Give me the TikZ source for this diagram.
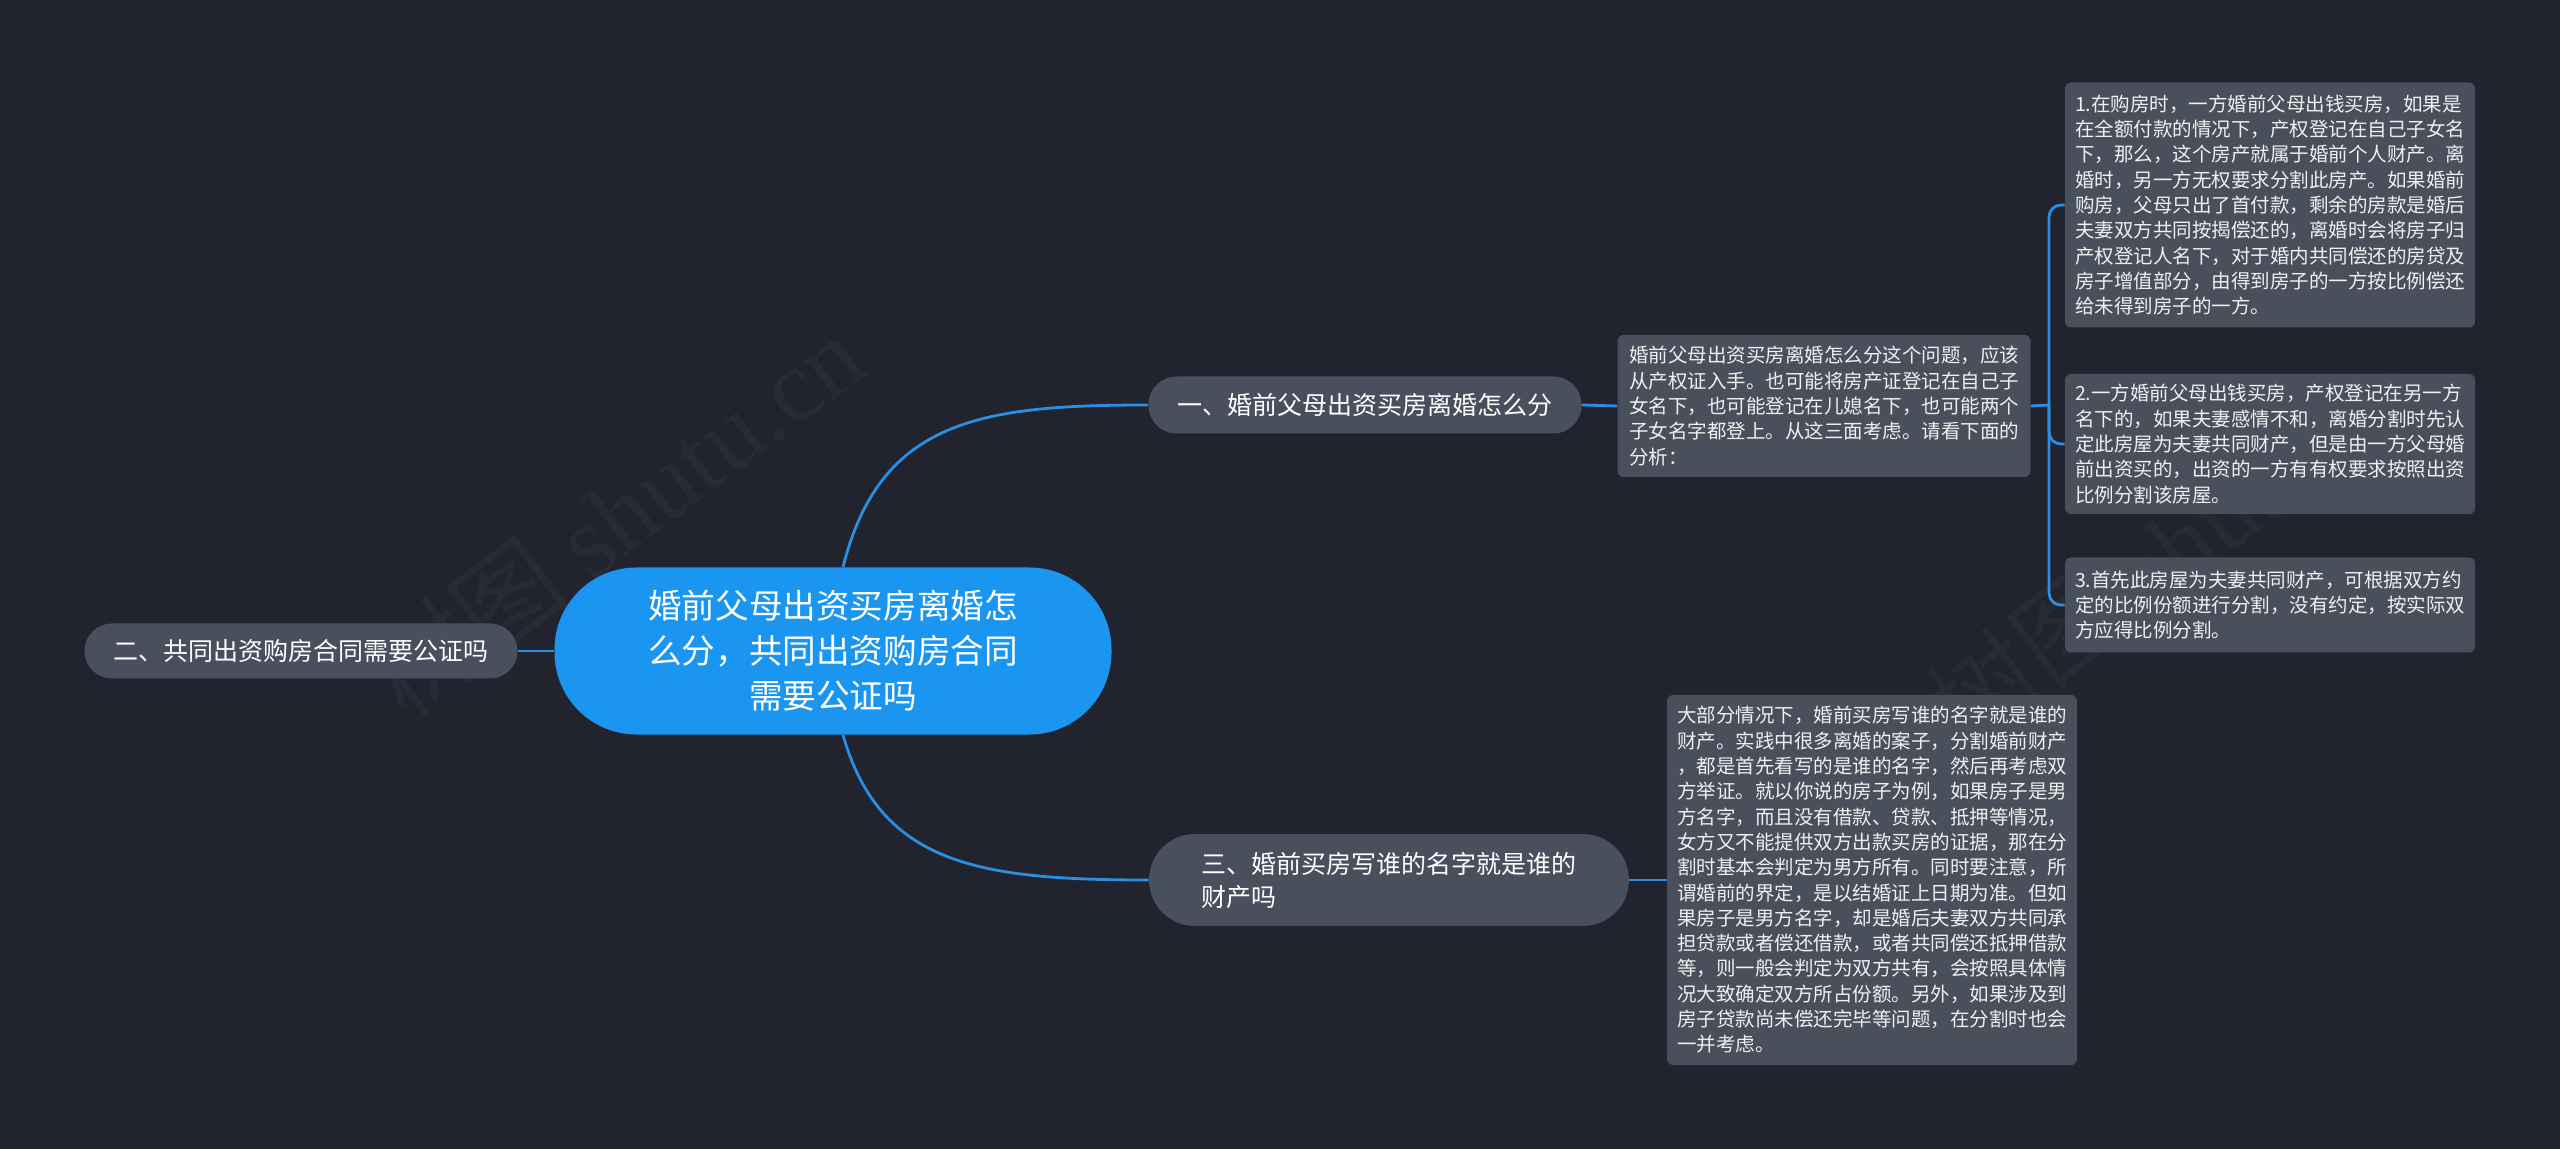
\documentclass[tikz,border=0pt]{standalone}
\usepackage{fontspec}
\setmainfont{Noto Sans CJK SC}
\newfontfamily\wmfont{Liberation Serif}
\usetikzlibrary{calc}
\definecolor{bg}{HTML}{21242E}
\definecolor{topicgray}{HTML}{4A4F5D}
\definecolor{boxgray}{HTML}{4A4F5C}
\definecolor{mainblue}{HTML}{1A96F0}
\definecolor{linkblue}{HTML}{2B8EE0}
\definecolor{wmark}{HTML}{282B35}

\begin{document}
\begin{tikzpicture}[x=0.5pt,y=-0.5pt,
    link/.style={draw=linkblue, line width=1.4pt},
    topic/.style={fill=topicgray, text=white, inner sep=0pt, font=\fontsize{12.5}{16.5}\selectfont},
    note/.style={fill=boxgray, text=white!94!black, rounded corners=3pt, inner sep=0pt,
        align=left, minimum width=205pt, font=\fontsize{9.75}{12.65}\selectfont},
    wmtext/.style={rotate=37, text=wmark, font=\fontsize{52}{52}\selectfont}]
        % background
        \path[fill=bg](0,0)rectangle(2560,1149);
        \useasboundingbox(0,0)rectangle(2560,1149);
        % watermark
        \node[wmtext](wm1)at(615,515){树图 {\wmfont shutu.cn}};
        \node[wmtext](wm2)at(2175,545){树图 {\wmfont shutu.cn}};
        % nodes
        \node[fill=mainblue, text=white, inner sep=0pt, align=center, minimum width=278.5pt,
            minimum height=83.5pt, rounded corners=41pt, font=\fontsize{16.8}{22.5}\selectfont]
            (main)at(833,651){婚前父母出资买房离婚怎\\么分，共同出资购房合同\\需要公证吗};
        \node[topic, minimum width=216.5pt, minimum height=28.5pt, rounded corners=14pt]
            (t1)at(1365,405){一、婚前父母出资买房离婚怎么分};
        \node[topic, minimum width=216.5pt, minimum height=27.5pt, rounded corners=13.7pt]
            (t2)at(301,651){二、共同出资购房合同需要公证吗};
        \node[topic, align=left, minimum width=240pt, minimum height=46pt, rounded corners=23pt,
            font=\fontsize{12.5}{16.5}\selectfont]
            (t3)at(1389,880){三、婚前买房写谁的名字就是谁的\\财产吗};
        \node[note, minimum width=206.5pt, minimum height=71pt](n1)at(1824,406){婚前父母出资买房离婚怎么分这个问题，应该\\从产权证入手。也可能将房产证登记在自己子\\女名下，也可能登记在儿媳名下，也可能两个\\子女名字都登上。从这三面考虑。请看下面的\\分析：};
        \node[note, minimum height=122.5pt](a1)at(2270,205){1.在购房时，一方婚前父母出钱买房，如果是\\在全额付款的情况下，产权登记在自己子女名\\下，那么，这个房产就属于婚前个人财产。离\\婚时，另一方无权要求分割此房产。如果婚前\\购房，父母只出了首付款，剩余的房款是婚后\\夫妻双方共同按揭偿还的，离婚时会将房子归\\产权登记人名下，对于婚内共同偿还的房贷及\\房子增值部分，由得到房子的一方按比例偿还\\给未得到房子的一方。};
        \node[note, minimum height=70pt](a2)at(2270,444){2.一方婚前父母出钱买房，产权登记在另一方\\名下的，如果夫妻感情不和，离婚分割时先认\\定此房屋为夫妻共同财产，但是由一方父母婚\\前出资买的，出资的一方有有权要求按照出资\\比例分割该房屋。};
        \node[note, minimum height=47.5pt](a3)at(2270,605){3.首先此房屋为夫妻共同财产，可根据双方约\\定的比例份额进行分割，没有约定，按实际双\\方应得比例分割。};
        \node[note, minimum height=185pt](n3)at(1872,880){大部分情况下，婚前买房写谁的名字就是谁的\\财产。实践中很多离婚的案子，分割婚前财产\\，都是首先看写的是谁的名字，然后再考虑双\\方举证。就以你说的房子为例，如果房子是男\\方名字，而且没有借款、贷款、抵押等情况，\\女方又不能提供双方出款买房的证据，那在分\\割时基本会判定为男方所有。同时要注意，所\\谓婚前的界定，是以结婚证上日期为准。但如\\果房子是男方名字，却是婚后夫妻双方共同承\\担贷款或者偿还借款，或者共同偿还抵押借款\\等，则一般会判定为双方共有，会按照具体情\\况大致确定双方所占份额。另外，如果涉及到\\房子贷款尚未偿还完毕等问题，在分割时也会\\一并考虑。};
        % connectors
        \coordinate(fork)at(2049,405);
        \path[link]([xshift=5pt]main.north)..controls(880,420)and(980,405)..(t1.west);
        \path[link]([xshift=5pt]main.south)..controls(880,865)and(980,880)..(t3.west);
        \path[link](main.west)to(t2.east);
        \path[link](t1.east)to(n1.west);
        \path[link](t3.east)to(n3.west);
        \path[link](n1.east)to(fork);
        \path[link, rounded corners=6pt](fork)|-(a1.west);
        \path[link, rounded corners=6pt](fork)|-(a2.west);
        \path[link, rounded corners=6pt](fork)|-(a3.west);
    \end{tikzpicture}
\end{document}
